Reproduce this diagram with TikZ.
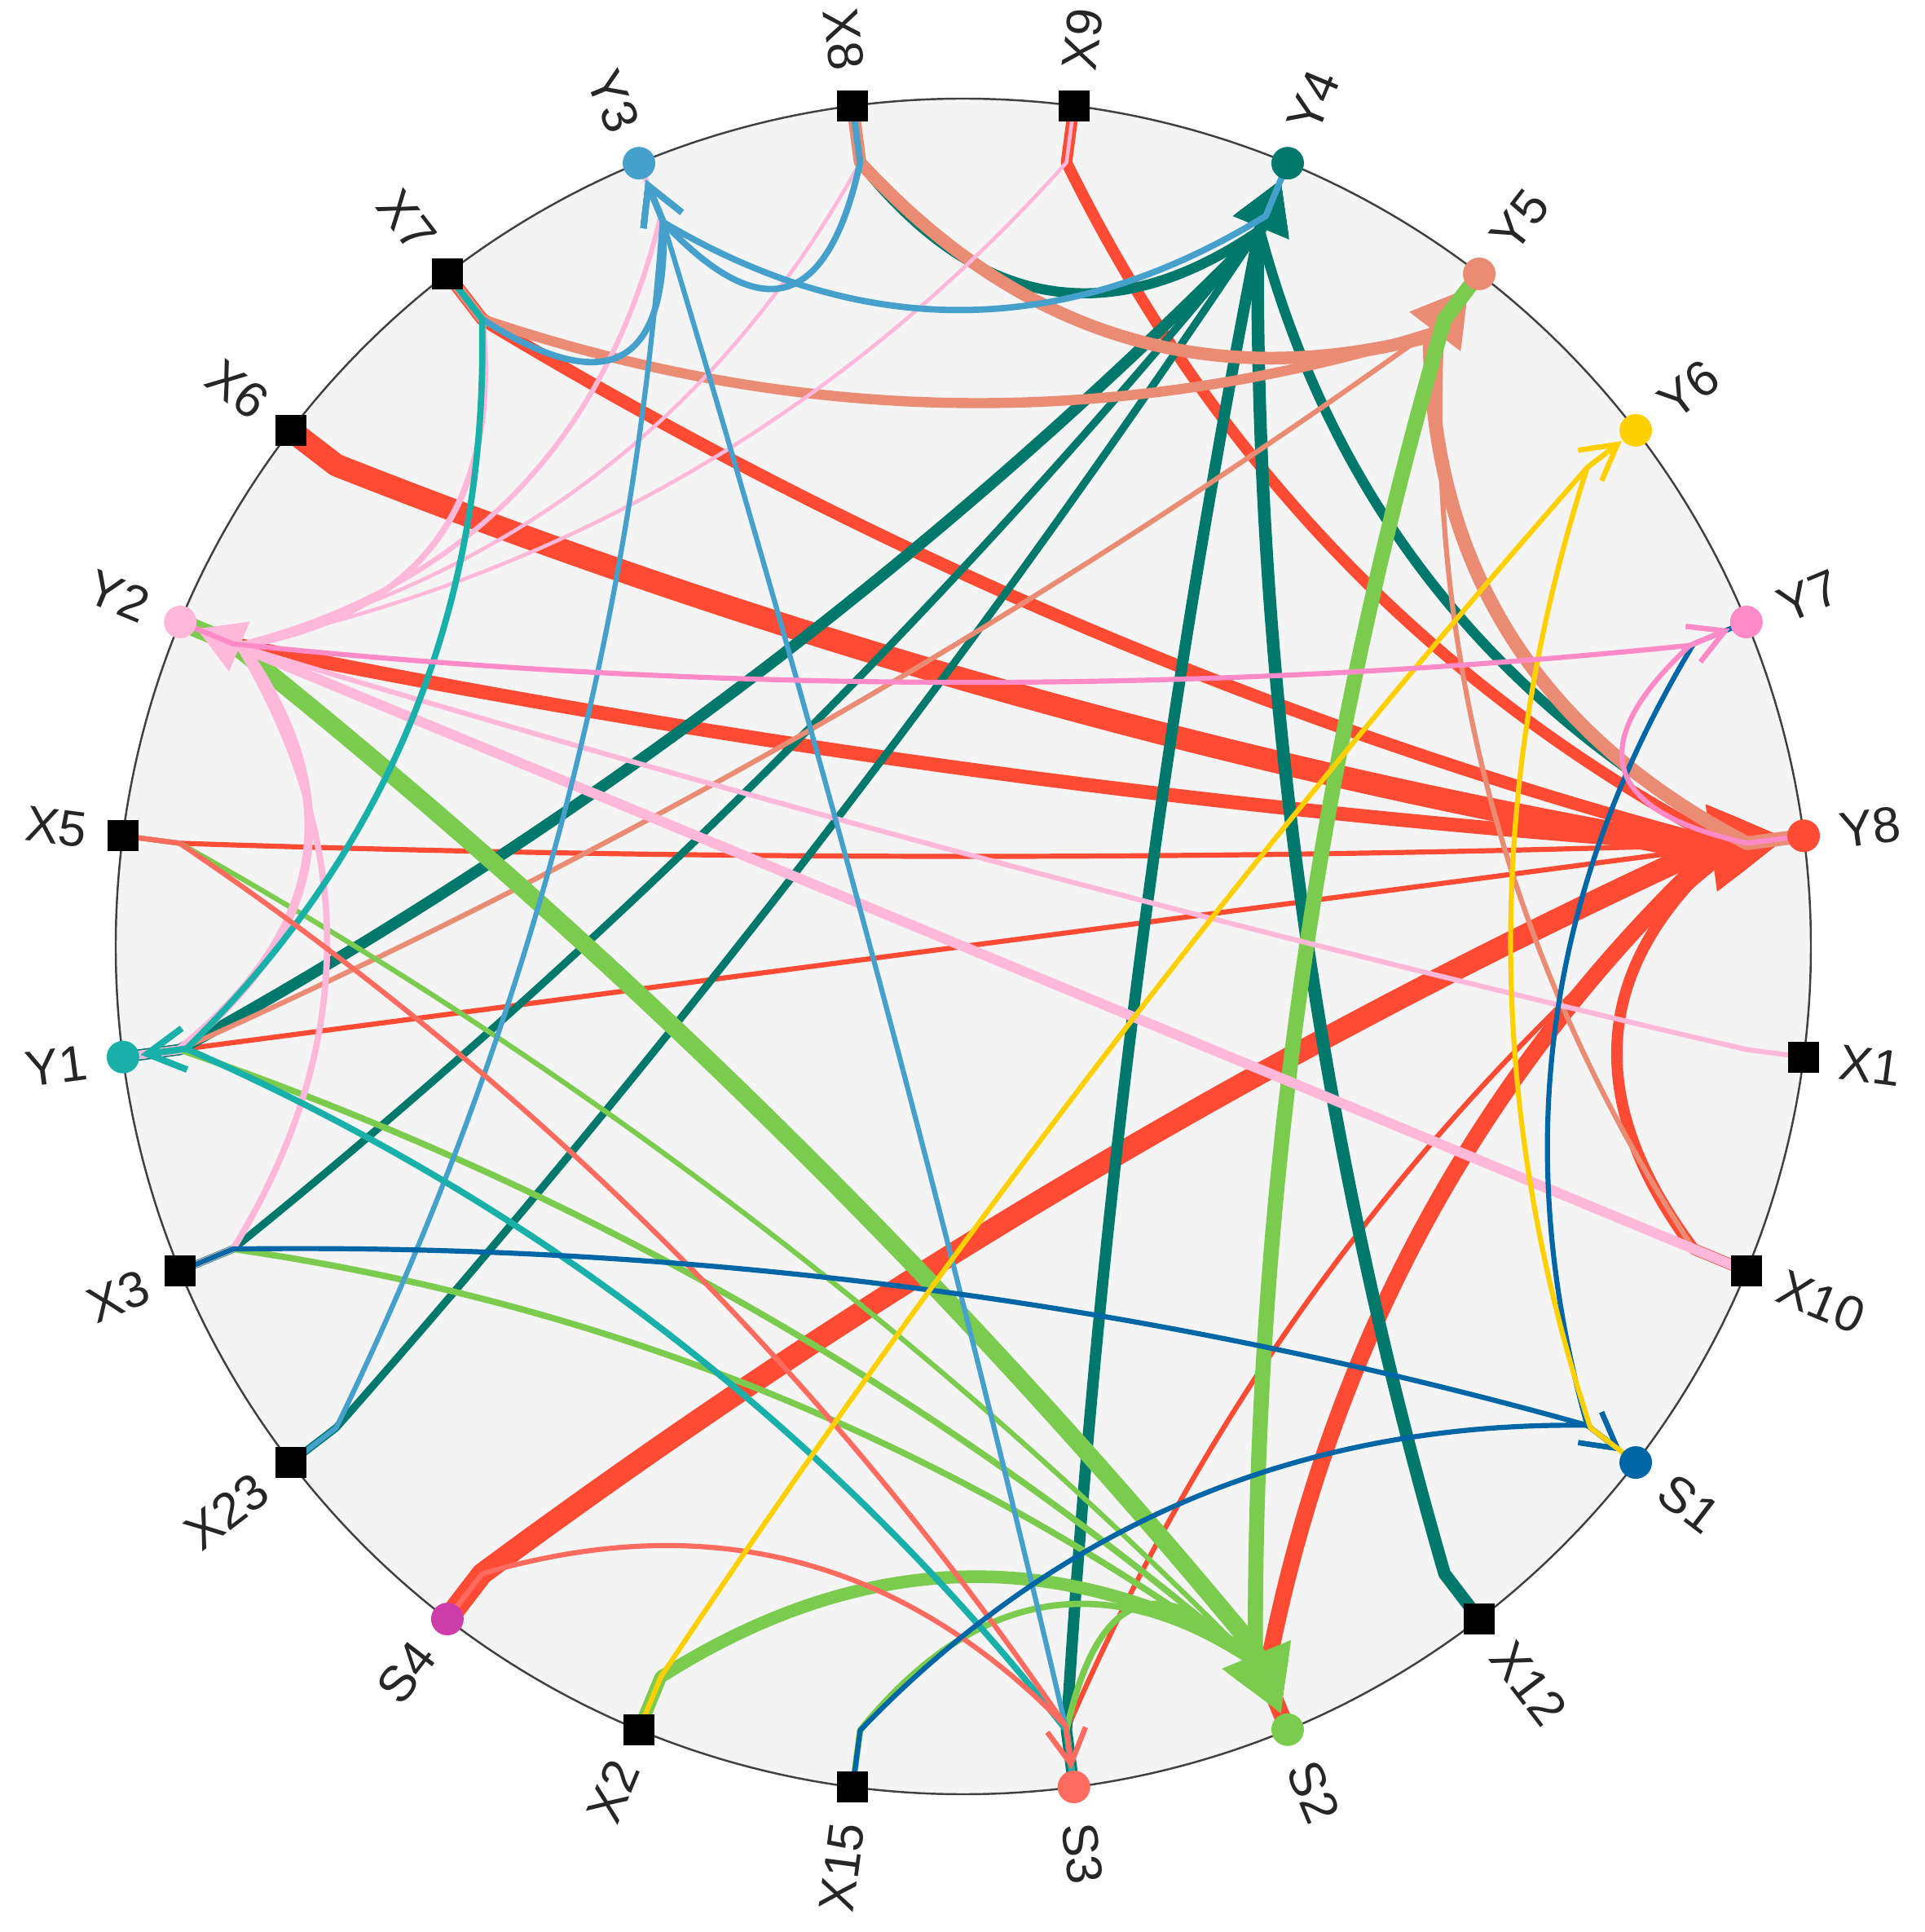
\documentclass[tikz,border=0pt]{standalone}
\usepackage{fontspec}
\setmainfont{Liberation Sans}
\usetikzlibrary{calc,arrows.meta}
\definecolor{cY1}{HTML}{1AB0AA}
\definecolor{cY2}{HTML}{FFB8DA}
\definecolor{cY3}{HTML}{45A0CC}
\definecolor{cY4}{HTML}{00786B}
\definecolor{cY5}{HTML}{E98C73}
\definecolor{cY6}{HTML}{FFD000}
\definecolor{cY7}{HTML}{FF8AC8}
\definecolor{cY8}{HTML}{FF4B33}
\definecolor{cS1}{HTML}{0066A6}
\definecolor{cS2}{HTML}{7BCC4E}
\definecolor{cS3}{HTML}{FF6B5E}
\definecolor{cS4}{HTML}{CC3DAA}
\definecolor{bgc}{HTML}{F4F4F4}
\newcommand\myedge[4]{%
  \pgfmathsetmacro\elw{#4*0.2845*1.55}%
  \pgfmathsetmacro\eal{8+2.3*\elw}%
  \pgfmathsetmacro\eaw{9+2.5*\elw}%
  \pgfmathsetmacro\erp{10.18-max(0.53,(\eal+3)/28.45)}%
  \edef\edgeang{\csname ang#2\endcsname}%
  \pgfmathtruncatemacro\ethick{#4>6.5?1:0}%
  \ifnum\ethick=1
    \tikzset{edgetip/.style={-{Triangle[length=\eal pt,width=\eaw pt]}}}%
  \else
    \tikzset{edgetip/.style={-{Straight Barb[length=\eal pt,width=\eaw pt]}}}%
  \fi
  \draw[line width=\elw pt, draw=#3, fill=none, line join=round, edgetip]
    (#1) -- (#1-p)
    .. controls ($0.5833*(#1-p)+0.25*(\edgeang:\erp)$)
       and ($0.25*(#1-p)+0.5833*(\edgeang:\erp)$) .. (\edgeang:\erp)
    -- (#2-t);
}
\tikzset{
  xnode/.style={rectangle, fill=black, minimum size=0.38cm, inner sep=0pt},
  ynode/.style={circle, fill=#1, minimum size=0.40cm, inner sep=0pt},
  lab/.style={font=\fontsize{17.5}{20}\selectfont, text=black!85, inner sep=0pt},
}
\begin{document}
\begin{tikzpicture}
\useasboundingbox (-11.82,-12.09) rectangle (11.80,11.61);
\draw[draw=black!75, fill=bgc, line width=0.7pt] (0,0) coordinate (O) circle (10.4);
\foreach \n/\a in {X9/82.5, Y4/67.5, Y5/52.5, Y6/37.5, Y7/22.5, Y8/7.5, X1/-7.5,
  X10/-22.5, S1/-37.5, X12/-52.5, S2/-67.5, S3/-82.5, X15/-97.5, X2/-112.5,
  S4/-127.5, X23/-142.5, X3/-157.5, Y1/-172.5, X5/172.5, Y2/157.5, X6/142.5,
  X7/127.5, Y3/112.5, X8/97.5}{
  \expandafter\xdef\csname ang\n\endcsname{\a}
  \coordinate (\n) at (\a:10.4);
  \coordinate (\n-p) at (\a:9.70);
  \coordinate (\n-t) at (\a:10.18);
}
% edges into Y8
\myedge{X6}{Y8}{cY8}{18}
\myedge{S4}{Y8}{cY8}{17}
\myedge{S2}{Y8}{cY8}{13}
\myedge{Y2}{Y8}{cY8}{11}
\myedge{X7}{Y8}{cY8}{10}
\myedge{X9}{Y8}{cY8}{9}
\myedge{X10}{Y8}{cY8}{9}
\myedge{X5}{Y8}{cY8}{4}
\myedge{Y1}{Y8}{cY8}{4}
\myedge{S3}{Y8}{cY8}{4}
% into Y4
\myedge{X8}{Y4}{cY4}{8}
\myedge{Y1}{Y4}{cY4}{9}
\myedge{X3}{Y4}{cY4}{6}
\myedge{X23}{Y4}{cY4}{6}
\myedge{S3}{Y4}{cY4}{9}
\myedge{X12}{Y4}{cY4}{10}
\myedge{Y8}{Y4}{cY4}{8}
% into Y5
\myedge{X8}{Y5}{cY5}{10}
\myedge{X7}{Y5}{cY5}{8}
\myedge{Y1}{Y5}{cY5}{4}
\myedge{Y8}{Y5}{cY5}{11}
\myedge{X10}{Y5}{cY5}{4}
% into S2
\myedge{Y2}{S2}{cS2}{14}
\myedge{Y5}{S2}{cS2}{12}
\myedge{X2}{S2}{cS2}{10}
\myedge{X5}{S2}{cS2}{4}
\myedge{Y1}{S2}{cS2}{5}
\myedge{X3}{S2}{cS2}{5}
\myedge{X15}{S2}{cS2}{5}
\myedge{S3}{S2}{cS2}{5}
% into Y2
\myedge{X10}{Y2}{cY2}{8}
\myedge{Y1}{Y2}{cY2}{7}
\myedge{X8}{Y2}{cY2}{3}
\myedge{X9}{Y2}{cY2}{3}
\myedge{X7}{Y2}{cY2}{5}
\myedge{Y3}{Y2}{cY2}{4}
\myedge{X3}{Y2}{cY2}{5}
\myedge{X1}{Y2}{cY2}{4}
% into Y3
\myedge{X8}{Y3}{cY3}{5}
\myedge{Y4}{Y3}{cY3}{5}
\myedge{X7}{Y3}{cY3}{5}
\myedge{X23}{Y3}{cY3}{4}
\myedge{S3}{Y3}{cY3}{4}
% into Y1
\myedge{X7}{Y1}{cY1}{5}
\myedge{S3}{Y1}{cY1}{5}
% into S3
\myedge{X5}{S3}{cS3}{4}
\myedge{S4}{S3}{cS3}{4}
% into S1
\myedge{X3}{S1}{cS1}{4}
\myedge{X15}{S1}{cS1}{4}
\myedge{Y7}{S1}{cS1}{4}
% into Y6
\myedge{S1}{Y6}{cY6}{4}
\myedge{X2}{Y6}{cY6}{4}
% into Y7
\myedge{Y2}{Y7}{cY7}{4}
\myedge{Y8}{Y7}{cY7}{4}
% node markers
\foreach \n in {X9,X1,X10,X12,X15,X2,X23,X3,X5,X6,X7,X8}{
  \node[xnode] (m\n) at (\n) {};
}
\foreach \n/\c in {Y1/cY1,Y2/cY2,Y3/cY3,Y4/cY4,Y5/cY5,Y6/cY6,Y7/cY7,Y8/cY8,S1/cS1,S2/cS2,S3/cS3,S4/cS4}{
  \node[ynode=\c] (m\n) at (\n) {};
}
% labels
\foreach \n/\a in {X9/82.5, Y4/67.5, Y5/52.5, Y6/37.5, Y7/22.5, Y8/7.5, X1/-7.5,
  X10/-22.5, S1/-37.5, X12/-52.5, S2/-67.5, S3/-82.5}{
  \node[lab, anchor=west, rotate=\a] (l\n) at (\a:10.84) {\n};
}
\foreach \n/\a in {X15/-97.5, X2/-112.5, S4/-127.5, X23/-142.5, X3/-157.5,
  Y1/-172.5, X5/172.5, Y2/157.5, X6/142.5, X7/127.5, Y3/112.5, X8/97.5}{
  \node[lab, anchor=east, rotate=\a+180] (l\n) at (\a:10.84) {\n};
}
\end{tikzpicture}
\end{document}
